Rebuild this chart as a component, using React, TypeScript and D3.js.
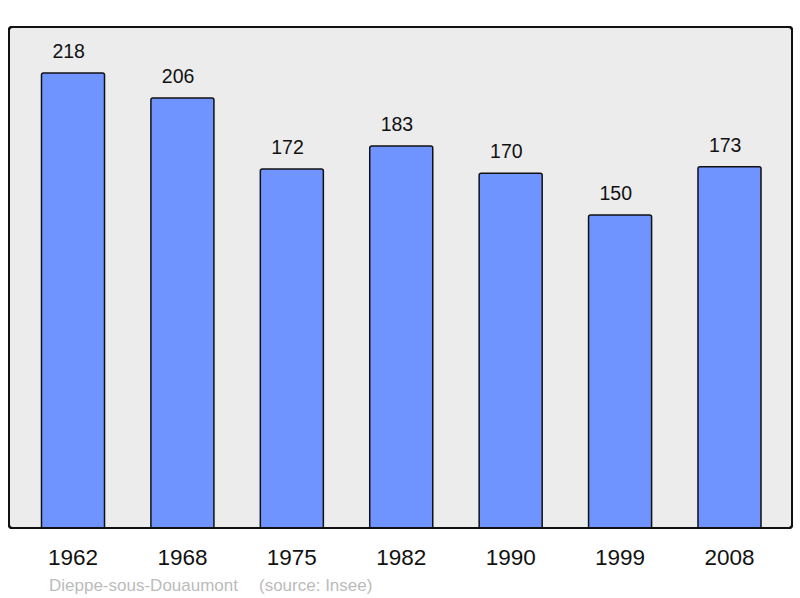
import React from 'react';
import { scaleBand, scaleLinear } from 'd3';

const YEARS = ['1962', '1968', '1975', '1982', '1990', '1999', '2008'];
const POPULATION = [218, 206, 172, 183, 170, 150, 173];
const Y_MAX = 240;
const COMMUNE = 'Dieppe-sous-Douaumont';
const SOURCE = '(source: Insee)';

const W = 800;
const H = 598;
const PANEL = { x: 9, y: 27, w: 783, h: 501 };
const BAR_FILL = '#7094ff';
const PANEL_FILL = '#ececec';
const FONT = '"Liberation Sans", Arial, sans-serif';

export default function App() {
	const x = scaleBand<string>()
		.domain(YEARS)
		.range([18.3, 784.2])
		.paddingInner(0.424)
		.paddingOuter(0.212);
	const y = scaleLinear().domain([0, Y_MAX]).range([PANEL.y + PANEL.h, PANEL.y]);
	const bw = x.bandwidth();

	return (
		<svg
			width={W}
			height={H}
			viewBox={`0 0 ${W} ${H}`}
			style={{ position: 'absolute', left: 0, top: 0, fontFamily: FONT }}
		>
			<rect width={W} height={H} fill="#ffffff" />
			<rect
				x={PANEL.x}
				y={PANEL.y}
				width={PANEL.w}
				height={PANEL.h}
				rx={3}
				fill={PANEL_FILL}
				stroke="#111"
				strokeWidth={2}
			/>
			{YEARS.map((yr, i) => {
				const bx = x(yr) ?? 0;
				const top = y(POPULATION[i]);
				return (
					<g key={yr}>
						<path
							d={`M${bx},${y(0)} V${top + 2} Q${bx},${top} ${bx + 2},${top} H${bx + bw - 2} Q${bx + bw},${top} ${bx + bw},${top + 2} V${y(0)}`}
							fill={BAR_FILL}
							stroke="#111"
							strokeWidth={1.5}
						/>
						{/* value labels sit a little left of the bar centre */}
						<text
							x={bx + bw / 2 - 4.3}
							y={top - 15}
							textAnchor="middle"
							fontSize={19.5}
							fill="#111"
						>
							{POPULATION[i]}
						</text>
						<text
							x={bx + bw / 2}
							y={565}
							textAnchor="middle"
							fontSize={22.5}
							fill="#111"
						>
							{yr}
						</text>
					</g>
				);
			})}
			<rect
				x={PANEL.x}
				y={PANEL.y}
				width={PANEL.w}
				height={PANEL.h}
				rx={3}
				fill="none"
				stroke="#111"
				strokeWidth={2}
			/>
			<text y={590.5} fontSize={17} fill="#bbbbbb">
				<tspan x={49}>{COMMUNE}</tspan>
				<tspan x={259}>{SOURCE}</tspan>
			</text>
		</svg>
	);
}
